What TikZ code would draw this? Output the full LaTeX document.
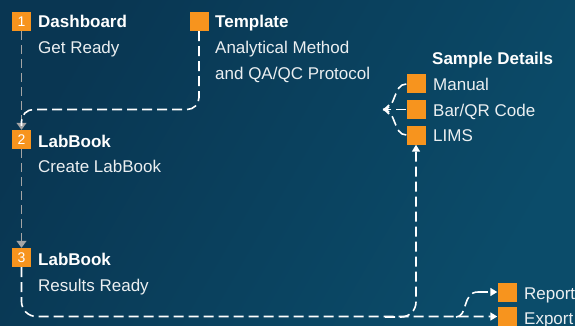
\documentclass[tikz,border=0pt]{standalone}
\usepackage{fontspec}
\setmainfont{Liberation Sans}
\usetikzlibrary{arrows.meta,calc}
\definecolor{bgdark}{RGB}{9,54,82}
\definecolor{bglight}{RGB}{11,76,106}
\definecolor{boxorange}{RGB}{247,148,30}
\definecolor{flowgray}{RGB}{165,165,165}
\tikzset{
  sq/.style={fill=boxorange, minimum size=19pt, inner sep=0pt, text=white, font=\fontsize{14}{14}\selectfont},
  ttl/.style={anchor=base west, inner sep=0pt, text=white, font=\fontsize{17}{17}\selectfont\bfseries},
  sub/.style={anchor=base west, inner sep=0pt, text=white!92!bgdark, font=\fontsize{17}{17}\selectfont},
  wdash/.style={draw=white, line width=1.6pt, dash pattern=on 10pt off 5pt},
  gdash/.style={draw=flowgray, line width=1.5pt, dash pattern=on 9pt off 5pt},
  wtip/.style={-{Triangle[length=7pt,width=8pt]}},
  gtip/.style={-{Triangle[length=7pt,width=10pt]}}
}
\begin{document}
\begin{tikzpicture}[x=1pt,y=-1pt]
\useasboundingbox (0,0) rectangle (575,326);
\shade[left color=bgdark, right color=bglight, shading angle=60] (0,0) rectangle (575,326);
% step boxes
\node[sq] (b1) at (21.5,21.5) {1};
\node[sq] (b2) at (21.5,139.5) {2};
\node[sq] (b3) at (21.5,257.5) {3};
\node[sq] (bt) at (199,21.5) {};
\node[sq] (bm) at (416,84) {};
\node[sq] (bq) at (416,109.5) {};
\node[sq] (bl) at (416,135) {};
\node[sq] (br) at (507,292) {};
\node[sq] (be) at (507,316.5) {};
% texts
\node[ttl] (t1) at (38,28) {Dashboard};
\node[sub] (s1) at (38,54) {Get Ready};
\node[ttl] (t2) at (38,147) {LabBook};
\node[sub] (s2) at (38,172) {Create LabBook};
\node[ttl] (t3) at (38,265) {LabBook};
\node[sub] (s3) at (38,291) {Results Ready};
\node[ttl] (tt) at (215,28) {Template};
\node[sub] (st1) at (215,54) {Analytical Method};
\node[sub] (st2) at (215,80) {and QA/QC Protocol};
\node[ttl] (ts) at (432,65) {Sample Details};
\node[sub] (sm) at (433,91) {Manual};
\node[sub] (sq2) at (433,117) {Bar/QR Code};
\node[sub] (sl) at (433,142) {LIMS};
\node[sub] (sr) at (524,299) {Report};
\node[sub] (se) at (524,324) {Export};
% coordinates
\coordinate (fa) at (383,109.5);
\coordinate (ex) at (385,317);
\coordinate (rp) at (456,317);
\coordinate (rq) at (478,292);
% gray flow
\draw[gdash,gtip] (b1.south) -- (b2.north);
\draw[gdash,gtip] (b2.south) -- (b3.north);
% template to labbook
\draw[wdash, rounded corners=12pt] (bt.south) -- (bt.south |- fa) -- (b2.north |- fa) -- ($(b2.north)+(0,-4)$);
% sample details fork
\draw[wdash] (bm.west) to[out=180,in=0] (fa);
\draw[wdash] (bl.west) to[out=180,in=0] (fa);
\draw[wdash, -{Straight Barb[length=5pt,width=9pt]}] (bq.west) -- (fa);
% results
\draw[wdash, wtip, rounded corners=15pt] (b3.south) |- (be.west);
\draw[wdash, wtip, rounded corners=15pt] (ex) -| (bl.south);
\draw[wdash] (rp) .. controls (468,317) and (462,292) .. (rq);
\draw[wdash, wtip] (rq) -- (br.west);
\end{tikzpicture}
\end{document}
